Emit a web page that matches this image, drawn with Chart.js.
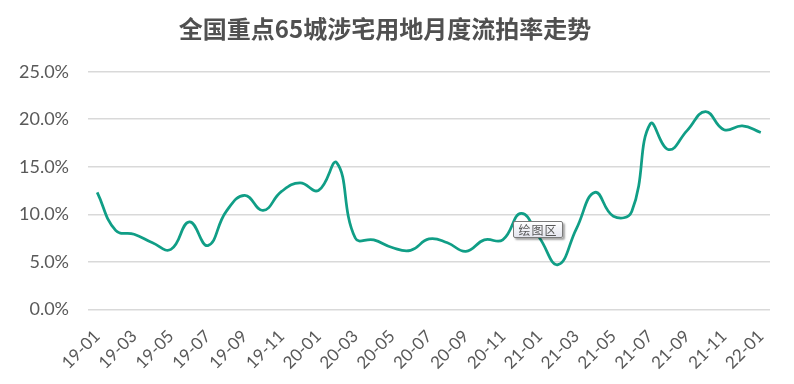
<!DOCTYPE html>
<html>
<head>
<meta charset="utf-8">
<script src="https://cdn.jsdelivr.net/npm/chart.js@4"></script>
<style>
  html, body { margin: 0; padding: 0; background: #ffffff; }
  #wrap { position: relative; width: 794px; height: 384px; }
  #tip {
    position: absolute; left: 513px; top: 221px; width: 48px; height: 15px;
    border: 1px solid #7a7a7a; border-radius: 2px;
    background: linear-gradient(#ffffff, #e4e5ee);
    box-shadow: 2px 2px 2px rgba(0,0,0,0.35);
    font: 12px "Noto Sans CJK SC", sans-serif; color: #575757;
    line-height: 15px; text-align: center; letter-spacing: 1px;
  }
</style>
</head>
<body>
<div id="wrap">
  <canvas id="c" width="794" height="384"></canvas>
  <div id="tip">绘图区</div>
</div>
<script>
const titleText = '全国重点65城涉宅用地月度流拍率走势';
const months = ['19-01','19-02','19-03','19-04','19-05','19-06','19-07','19-08','19-09','19-10','19-11','19-12',
                '20-01','20-02','20-03','20-04','20-05','20-06','20-07','20-08','20-09','20-10','20-11','20-12',
                '21-01','21-02','21-03','21-04','21-05','21-06','21-07','21-08','21-09','21-10','21-11','21-12',
                '22-01'];
const rates = [12.3, 8.3, 7.9, 7.0, 6.3, 9.2, 6.7, 10.3, 12.0, 10.4, 12.4, 13.3,
               12.5, 15.4, 7.5, 7.3, 6.5, 6.2, 7.4, 7.0, 6.1, 7.3, 7.3, 10.1,
               7.5, 4.7, 8.5, 12.3, 9.8, 10.3, 19.5, 16.8, 18.8, 20.8, 18.9, 19.3,
               18.6];
const yTicks = [0, 5, 10, 15, 20, 25];

new Chart(document.getElementById('c'), {
  type: 'line',
  data: {
    labels: months,
    datasets: [{
      data: rates,
      borderColor: '#109E86',
      borderWidth: 2.75,
      pointRadius: 0,
      pointHoverRadius: 0,
      tension: 0.45,
      fill: false
    }]
  },
  options: {
    responsive: false,
    animation: false,
    devicePixelRatio: 1,
    layout: { padding: { left: 0, right: 24, top: 0, bottom: 0 } },
    plugins: {
      legend: { display: false },
      tooltip: { enabled: false },
      title: {
        display: true,
        text: titleText,
        color: '#505050',
        font: { family: '"Noto Sans CJK SC", sans-serif', size: 24, weight: 'bold', lineHeight: 1.2 },
        padding: { top: 14, bottom: 28.9 }
      }
    },
    scales: {
      x: {
        offset: true,
        grid: { display: false, drawTicks: false },
        border: { display: false },
        ticks: {
          autoSkip: false,
          maxRotation: 45,
          minRotation: 45,
          padding: 17,
          color: '#595959',
          font: { family: 'Lato, "Noto Sans", sans-serif', size: 17 },
          callback: function(v, i) { return i % 2 === 0 ? months[i] : ''; }
        },
        afterFit: function(s) { s.height = 74.7; }
      },
      y: {
        min: 0,
        max: 25,
        afterBuildTicks: function(s) { s.ticks = yTicks.map(v => ({ value: v })); },
        grid: { color: '#D9D9D9', lineWidth: 1.5, drawTicks: false },
        border: { display: false },
        ticks: {
          padding: 19,
          color: '#595959',
          font: { family: 'Lato, "Noto Sans", sans-serif', size: 18 },
          callback: function(v) { return v.toFixed(1) + '%'; }
        },
        afterFit: function(s) { s.width = 88; }
      }
    }
  }
});
</script>
</body>
</html>
